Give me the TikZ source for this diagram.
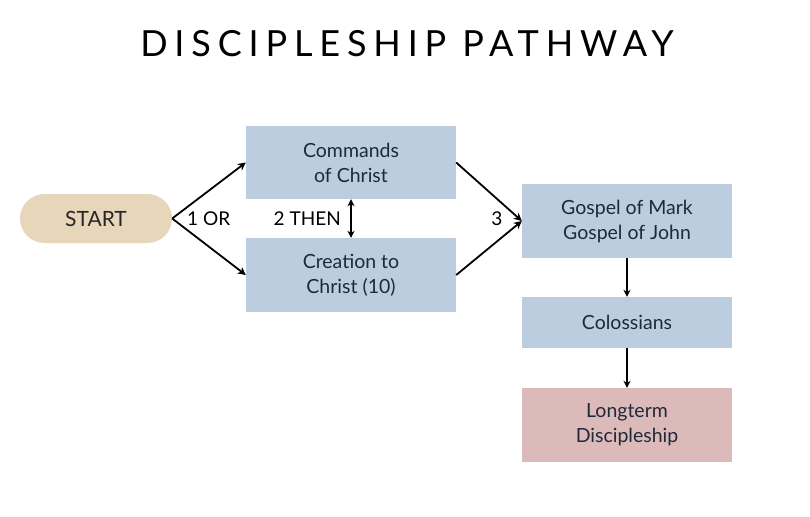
\documentclass[tikz,border=0pt]{standalone}
\usepackage{fontspec}
\setmainfont{Lato}
\usetikzlibrary{arrows.meta}
\definecolor{boxblue}{HTML}{BCCDE0}
\definecolor{startbeige}{HTML}{E7D6BA}
\definecolor{endpink}{HTML}{DDBABA}
\definecolor{txt}{HTML}{1E2A3A}
\tikzset{
  box/.style={fill=boxblue, minimum width=210pt, align=center, font=\fontsize{19.5}{25}\selectfont, text=txt, inner sep=0pt},
  conn/.style={draw=black, line width=1.8pt, -{Stealth[length=8pt,width=8pt]}},
  lbl/.style={font=\fontsize{19}{22}\selectfont, text=black, inner sep=0pt}
}
\begin{document}
\begin{tikzpicture}[x=1pt,y=-1pt]
\useasboundingbox (0,0) rectangle (810,516);
\node[font=\fontsize{36}{40}\selectfont, inner sep=0pt] (title) at (407,44) {\addfontfeatures{LetterSpace=19}DISCIPLESHIP PATHWAY};
\node[fill=startbeige, rounded corners=24.5pt, minimum width=152pt, minimum height=49pt, font=\fontsize{21}{24}\selectfont, text=black!85, inner sep=0pt] (start) at (96,218.5) {START};
\node[box, minimum height=73pt] (cmd) at (351,162.5) {Commands\\of Christ};
\node[box, minimum height=74pt] (cre) at (351,275) {Creation to\\Christ (10)};
\node[box, minimum height=74pt] (gos) at (627,221) {Gospel of Mark\\Gospel of John};
\node[box, minimum height=51pt] (col) at (627,322.5) {Colossians};
\node[box, fill=endpink, minimum height=74pt] (lon) at (627,425) {Longterm\\Discipleship};
\draw[conn] (start.east) -- (cmd.west);
\draw[conn] (start.east) -- (cre.west);
\draw[conn] (cmd.east) -- (gos.west);
\draw[conn] (cre.east) -- (gos.west);
\draw[draw=black, line width=1.8pt, {Stealth[length=7pt,width=7pt]}-{Stealth[length=7pt,width=7pt]}] (cmd.south) -- (cre.north);
\draw[conn, -{Stealth[length=7pt,width=7pt]}] (gos.south) -- (col.north);
\draw[conn, -{Stealth[length=7pt,width=7pt]}] (col.south) -- (lon.north);
\node[lbl, anchor=west] (l1) at (187,219) {1 OR};
\node[lbl, anchor=east] (l2) at (341,219) {2 THEN};
\node[lbl] (l3) at (497,219) {3};
\end{tikzpicture}
\end{document}
